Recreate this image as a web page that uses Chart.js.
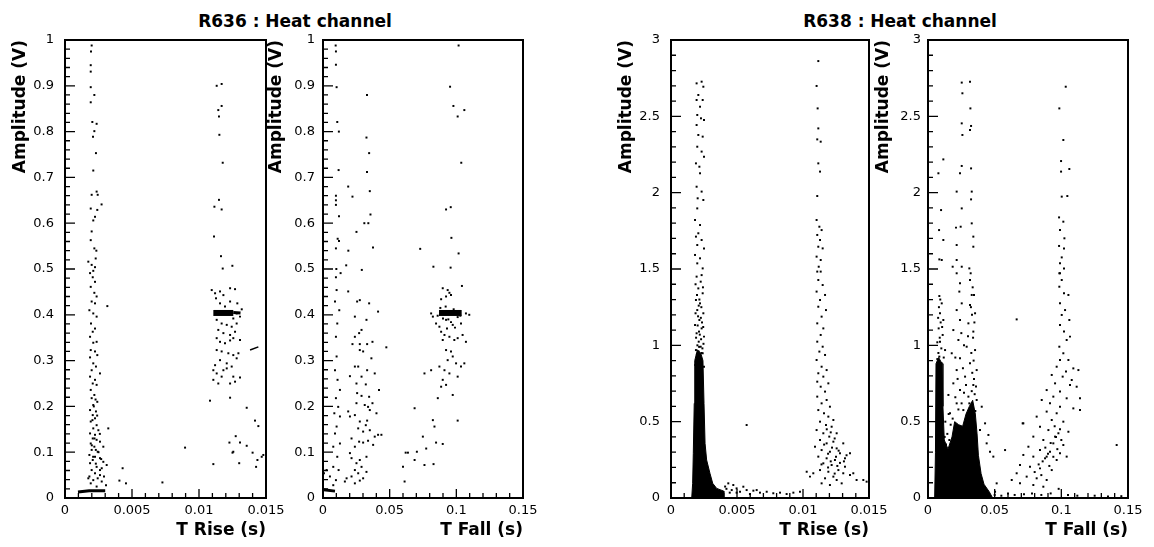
<!DOCTYPE html>
<html>
<head>
<meta charset="utf-8">
<script src="https://cdn.jsdelivr.net/npm/chart.js@4.4.0/dist/chart.umd.min.js"></script>
<style>
html, body { margin: 0; padding: 0; background: #fff; }
#wrap { position: relative; width: 1154px; height: 547px; overflow: hidden; }
canvas { position: absolute; }
.suptitle { position: absolute; top: 11px; line-height: 20px; font: bold 17px "DejaVu Sans"; transform: translateX(-50%); white-space: nowrap; color: #000; }
</style>
</head>
<body>
<div id="wrap">
  <div class="suptitle" style="left:295px">R636 : Heat channel</div>
  <div class="suptitle" style="left:900px">R638 : Heat channel</div>
  <canvas id="p1" width="288" height="517" style="left:0px;top:30px"></canvas>
  <canvas id="p2" width="289" height="517" style="left:256px;top:30px"></canvas>
  <canvas id="p3" width="285" height="517" style="left:606px;top:30px"></canvas>
  <canvas id="p4" width="287" height="517" style="left:863px;top:30px"></canvas>
</div>
<script>
// axes
const riseTicks = [0, 0.005, 0.01, 0.015];
const riseLabels = ['0', '0.005', '0.01', '0.015'];
const fallTicks = [0, 0.05, 0.1, 0.15];
const fallLabels = ['0', '0.05', '0.1', '0.15'];
const amp636Ticks = [0, 0.1, 0.2, 0.3, 0.4, 0.5, 0.6, 0.7, 0.8, 0.9, 1];
const amp636Labels = ['0', '0.1', '0.2', '0.3', '0.4', '0.5', '0.6', '0.7', '0.8', '0.9', '1'];
const amp638Ticks = [0, 0.5, 1, 1.5, 2, 2.5, 3];
const amp638Labels = ['0', '0.5', '1', '1.5', '2', '2.5', '3'];

// ---- R636, T Rise ----
const r636RiseBandHigh = [[0.00199,0.988],[0.00194,0.975],[0.00192,0.945],[0.00192,0.931],[0.00192,0.897],[0.00219,0.880],[0.00192,0.864],[0.00204,0.821],[0.00236,0.817],[0.00219,0.801],[0.00209,0.789],[0.00231,0.753],[0.00211,0.715],[0.00199,0.662],[0.00236,0.669],[0.00244,0.662],[0.00273,0.641],[0.00192,0.632],[0.00224,0.614],[0.00211,0.606],[0.00241,0.629],[0.00199,0.582],[0.00192,0.563],[0.00219,0.545],[0.00234,0.540],[0.00229,0.523],[0.00174,0.516],[0.00199,0.509],[0.00224,0.504],[0.00211,0.496]];
const r636RiseBandLow = [[0.00187,0.491],[0.00207,0.482],[0.00224,0.472],[0.00192,0.461],[0.00219,0.448],[0.00236,0.440],[0.00199,0.429],[0.00224,0.425],[0.00182,0.410],[0.00211,0.403],[0.00236,0.396],[0.00194,0.381],[0.00224,0.370],[0.00207,0.363],[0.00187,0.352],[0.00236,0.341],[0.00211,0.339],[0.00192,0.323],[0.00224,0.320],[0.00241,0.312],[0.00187,0.307],[0.00211,0.294],[0.00231,0.287],[0.00199,0.279],[0.00261,0.272],[0.00187,0.265],[0.00224,0.258],[0.00207,0.250],[0.00236,0.247],[0.00192,0.236],[0.00219,0.225],[0.00199,0.218],[0.00241,0.210],[0.00211,0.203],[0.00187,0.192],[0.00231,0.189],[0.00207,0.181],[0.00224,0.174],[0.00192,0.167],[0.00236,0.159],[0.00211,0.152],[0.00249,0.148],[0.00187,0.141],[0.00224,0.138],[0.00207,0.130],[0.00236,0.127],[0.00261,0.123],[0.00192,0.119],[0.00219,0.112],[0.00286,0.112],[0.00199,0.105],[0.00244,0.101],[0.00182,0.094],[0.00224,0.090],[0.00261,0.087],[0.00207,0.083],[0.00311,0.072],[0.00187,0.076],[0.00236,0.068],[0.00274,0.065],[0.00199,0.061],[0.00224,0.054],[0.00261,0.050],[0.00182,0.047],[0.00244,0.043],[0.00291,0.047],[0.00211,0.039],[0.00274,0.036],[0.00192,0.032],[0.00306,0.028],[0.00236,0.025],[0.00261,0.061],[0.00174,0.043],[0.00286,0.079],[0.00215,0.200],[0.00228,0.215],[0.00205,0.170],[0.00240,0.180],[0.00220,0.130],[0.00250,0.100],[0.00210,0.090],[0.00230,0.075],[0.00270,0.085],[0.00200,0.115],[0.00260,0.140],[0.00230,0.105]];
const r636RiseBase = [[0.00097,0.013],[0.0018,0.016],[0.0030,0.016]];
const r636RiseClusterHigh = [[0.01132,0.900],[0.01169,0.904],[0.01144,0.847],[0.01169,0.856],[0.01149,0.833],[0.01152,0.793],[0.01177,0.732],[0.01149,0.651],[0.01115,0.636],[0.01169,0.630],[0.01112,0.571],[0.01164,0.528],[0.01249,0.507],[0.01177,0.501]];
const r636RiseCluster = [[0.01095,0.454],[0.0112,0.447],[0.01157,0.451],[0.01232,0.458],[0.01182,0.443],[0.01269,0.456],[0.01127,0.436],[0.01157,0.425],[0.01194,0.418],[0.01232,0.429],[0.01286,0.425],[0.01319,0.412],[0.01281,0.403],[0.01306,0.396],[0.01256,0.392],[0.01132,0.389],[0.01169,0.381],[0.01207,0.378],[0.01244,0.374],[0.01281,0.381],[0.01144,0.367],[0.01182,0.360],[0.01232,0.356],[0.01269,0.363],[0.01306,0.345],[0.01132,0.349],[0.01157,0.341],[0.01194,0.338],[0.01232,0.344],[0.01256,0.349],[0.01132,0.323],[0.01169,0.320],[0.01219,0.316],[0.01256,0.312],[0.01294,0.316],[0.01157,0.301],[0.01207,0.294],[0.01244,0.287],[0.01281,0.305],[0.01107,0.279],[0.01132,0.272],[0.01169,0.265],[0.01207,0.283],[0.01256,0.265],[0.01107,0.258],[0.01144,0.250],[0.01232,0.250],[0.01269,0.254],[0.01306,0.263],[0.0112,0.290],[0.01182,0.279]];
const r636RisePeak = [[0.01107,0.404],[0.01256,0.404]];
const r636RisePeakTail = [[0.01256,0.405],[0.0131,0.404]];
const r636RiseStray = [[0.00316,0.419],[0.00323,0.152],[0.0043,0.065],[0.00406,0.038],[0.00455,0.032],[0.00727,0.034],[0.00896,0.110],[0.01107,0.074],[0.01082,0.2125],[0.01232,0.219],[0.01227,0.121],[0.01256,0.101],[0.01306,0.121],[0.01274,0.135],[0.01356,0.114],[0.0125,0.099],[0.0130,0.076],[0.01356,0.197],[0.0140,0.099],[0.01418,0.169],[0.01443,0.157],[0.01426,0.068],[0.01436,0.083],[0.01468,0.090],[0.0148,0.094]];
const r636RiseDash = [[0.01381,0.323],[0.01443,0.330]];

// ---- R636, T Fall ----
const r636FallHigh = [[0.0095,0.988],[0.0097,0.975],[0.0097,0.946],[0.0102,0.897],[0.033,0.880],[0.0953,0.898],[0.0978,0.856],[0.101,0.833],[0.106,0.847],[0.1017,0.988],[0.0107,0.821],[0.0119,0.800],[0.0326,0.787],[0.0346,0.753],[0.1037,0.732],[0.0117,0.716],[0.033,0.712],[0.0189,0.680],[0.0221,0.658],[0.0097,0.660],[0.0097,0.650],[0.0097,0.640],[0.0351,0.670],[0.0356,0.619],[0.012,0.615],[0.031,0.600],[0.034,0.600],[0.0923,0.630],[0.0958,0.635],[0.0251,0.581],[0.011,0.566],[0.012,0.561],[0.0097,0.545],[0.019,0.540],[0.0375,0.547],[0.0729,0.544],[0.0963,0.568],[0.1017,0.534],[0.0828,0.505],[0.0957,0.503],[0.010,0.500],[0.0174,0.508],[0.0291,0.498]];
const r636FallLeft = [[0.0097,0.482],[0.0132,0.491],[0.0102,0.454],[0.0090,0.429],[0.0122,0.410],[0.0107,0.381],[0.0097,0.352],[0.0102,0.309],[0.0090,0.279],[0.0109,0.258],[0.0127,0.236],[0.0097,0.218],[0.0114,0.199],[0.0085,0.185],[0.0127,0.178],[0.0102,0.156],[0.0090,0.141],[0.0127,0.119],[0.0077,0.112],[0.0107,0.090],[0.0077,0.068],[0.0117,0.061],[0.0097,0.039],[0.0052,0.047],[0.0027,0.061],[0.0007,0.054],[0.0077,0.028]];
const r636FallBase = [[0.0005,0.018],[0.009,0.015]];
const r636FallMid = [[0.0189,0.451],[0.0256,0.429],[0.0276,0.432],[0.0346,0.425],[0.0413,0.407],[0.0239,0.396],[0.0326,0.389],[0.0289,0.367],[0.0271,0.360],[0.0239,0.352],[0.0221,0.336],[0.0276,0.336],[0.0331,0.336],[0.0371,0.341],[0.0475,0.329],[0.0276,0.323],[0.0301,0.320],[0.0363,0.305],[0.0239,0.287],[0.0264,0.287],[0.0331,0.279],[0.0388,0.272],[0.0202,0.266],[0.0289,0.265],[0.0251,0.250],[0.0321,0.248],[0.0256,0.229],[0.0420,0.236],[0.0289,0.223],[0.0346,0.221],[0.0251,0.207],[0.0313,0.203],[0.0338,0.199],[0.0371,0.207],[0.0351,0.192],[0.0401,0.185],[0.0202,0.178],[0.0239,0.181],[0.0189,0.189],[0.0276,0.167],[0.0331,0.169],[0.0321,0.159],[0.0264,0.152],[0.0301,0.145],[0.0351,0.148],[0.0413,0.138],[0.0438,0.138],[0.0388,0.134],[0.0214,0.130],[0.0271,0.123],[0.0301,0.121],[0.0338,0.125],[0.0376,0.116],[0.0239,0.112],[0.0202,0.098],[0.0214,0.087],[0.0276,0.083],[0.0326,0.090],[0.0251,0.076],[0.0239,0.061],[0.0289,0.068],[0.0264,0.054],[0.0214,0.047],[0.0177,0.043],[0.0301,0.043],[0.0276,0.038],[0.0164,0.036],[0.0239,0.032],[0.0326,0.057]];
const r636FallCluster = [[0.0898,0.458],[0.0935,0.454],[0.0960,0.443],[0.0923,0.440],[0.1042,0.463],[0.0886,0.434],[0.0948,0.448],[0.0811,0.403],[0.0824,0.396],[0.1072,0.403],[0.1097,0.400],[0.0848,0.381],[0.0873,0.374],[0.0923,0.389],[0.0973,0.378],[0.1035,0.381],[0.0886,0.363],[0.0911,0.356],[0.0948,0.352],[0.0985,0.345],[0.1010,0.349],[0.1047,0.356],[0.1072,0.341],[0.0898,0.345],[0.0923,0.323],[0.0960,0.320],[0.0973,0.309],[0.0935,0.301],[0.0998,0.294],[0.1035,0.287],[0.1060,0.294],[0.0873,0.287],[0.0911,0.279],[0.0948,0.272],[0.1010,0.265],[0.0898,0.258],[0.0923,0.247],[0.0886,0.243],[0.0861,0.218],[0.0973,0.225],[0.0761,0.272],[0.0811,0.279],[0.1010,0.169],[0.0824,0.170],[0.0836,0.156],[0.0687,0.196],[0.088,0.415],[0.092,0.418],[0.098,0.412],[0.101,0.395],[0.094,0.390],[0.090,0.392],[0.096,0.384],[0.103,0.398],[0.086,0.398],[0.099,0.372],[0.093,0.370]];
const r636FallPeak = [[0.087,0.404],[0.104,0.404]];
const r636FallTail = [[0.0600,0.068],[0.0620,0.099],[0.0637,0.099],[0.0687,0.083],[0.0704,0.101],[0.0761,0.072],[0.0774,0.108],[0.0829,0.074],[0.0848,0.121],[0.0898,0.118],[0.0612,0.036],[0.0749,0.134]];

// ---- R638, T Rise ----
const r638RiseSpikeHigh = [[0.00194,2.716],[0.00232,2.727],[0.00245,2.694],[0.00207,2.640],[0.00194,2.607],[0.00240,2.607],[0.00220,2.563],[0.00199,2.509],[0.00227,2.487],[0.00250,2.476],[0.00194,2.443],[0.00207,2.378],[0.00240,2.367],[0.00199,2.301],[0.00232,2.269],[0.00250,2.236],[0.00189,2.192],[0.00215,2.170],[0.00220,2.127],[0.00194,2.039],[0.00232,2.007],[0.00202,1.963],[0.00245,1.952],[0.00199,1.897],[0.00182,1.821],[0.00220,1.788],[0.00207,1.734],[0.00189,1.712],[0.00232,1.690],[0.00199,1.657],[0.00250,1.635],[0.00182,1.592],[0.00220,1.570],[0.00199,1.537],[0.00240,1.504]];
const r638RiseSpikeMid = [[0.00194,1.450],[0.00225,1.417],[0.00207,1.373],[0.00240,1.341],[0.00189,1.297],[0.00220,1.275],[0.00199,1.231],[0.00245,1.210],[0.00215,1.166],[0.00182,1.133],[0.00232,1.111],[0.00194,1.079],[0.00250,1.057],[0.00210,1.024],[0.00225,0.991],[0.00189,0.969],[0.00240,0.948],[0.00202,0.921],[0.00220,0.893],[0.00184,0.871],[0.00250,0.860],[0.00215,1.30],[0.00230,1.25],[0.00205,1.19],[0.00235,1.15],[0.00212,1.09],[0.00228,1.04],[0.00200,1.00],[0.00238,0.98],[0.00186,1.40],[0.00232,1.46],[0.00242,1.38],[0.00197,1.33],[0.00210,1.26],[0.00186,1.21],[0.00226,1.18],[0.00244,1.12],[0.00202,1.13],[0.00190,1.05],[0.00218,1.07],[0.00246,1.01],[0.00232,0.95],[0.00208,0.96],[0.00196,0.94],[0.00213,0.99]];
const r638RiseSpikeCore = [[0.00157,0],[0.00164,0.096],[0.00169,0.293],[0.00176,0.620],[0.00180,0.900],[0.00200,0.97],[0.00225,0.95],[0.00242,0.900],[0.00250,0.620],[0.00258,0.358],[0.00270,0.249],[0.00295,0.162],[0.00316,0.096],[0.00346,0.063],[0.00400,0.045],[0.00400,0]];
const r638RiseFloor = [[0.00434,0.096],[0.00472,0.085],[0.00497,0.063],[0.00548,0.074],[0.00573,0.052],[0.00624,0.048],[0.00674,0.035],[0.00725,0.041],[0.00775,0.031],[0.00826,0.035],[0.00876,0.026],[0.00927,0.035],[0.00977,0.041],[0.00460,0.052],[0.00523,0.041],[0.00598,0.026],[0.00497,0.035],[0.00649,0.052],[0.00573,0.478],[0.00420,0.060],[0.00445,0.035],[0.00410,0.075]];
const r638RiseSecondHigh = [[0.01116,2.862],[0.01103,2.699],[0.01111,2.552],[0.01116,2.421],[0.01108,2.349],[0.01134,2.334],[0.01116,2.192],[0.01129,2.138],[0.01108,1.978],[0.01103,1.821],[0.01124,1.777],[0.01141,1.755],[0.01108,1.723],[0.01129,1.690],[0.01116,1.646],[0.01149,1.635],[0.01103,1.581],[0.01134,1.559],[0.01119,1.515],[0.01108,1.483]];
const r638RiseSecondLow = [[0.01134,1.483],[0.01116,1.428],[0.01149,1.395],[0.01103,1.352],[0.01167,1.330],[0.01129,1.297],[0.01116,1.253],[0.01174,1.231],[0.01141,1.188],[0.01108,1.144],[0.01154,1.111],[0.01134,1.068],[0.01108,1.024],[0.01149,0.991],[0.01124,0.959],[0.01167,0.937],[0.01103,0.904],[0.01141,0.860],[0.01179,0.838],[0.01116,0.817],[0.01154,0.795],[0.01108,0.762],[0.01192,0.751],[0.01134,0.729],[0.01167,0.697],[0.01108,0.664],[0.01179,0.642],[0.01141,0.620],[0.01204,0.598],[0.01116,0.576],[0.01159,0.555],[0.01192,0.533],[0.01230,0.511],[0.01129,0.500],[0.01174,0.478],[0.01217,0.467],[0.01103,0.445],[0.01154,0.424],[0.01255,0.424],[0.01199,0.402],[0.01129,0.380],[0.01230,0.369],[0.01179,0.358],[0.01305,0.358],[0.01091,0.336],[0.01141,0.314],[0.01255,0.325],[0.01204,0.303],[0.01280,0.293],[0.01116,0.271],[0.01179,0.260],[0.01242,0.249],[0.01318,0.260],[0.01154,0.227],[0.01217,0.216],[0.01356,0.293],[0.01129,0.183],[0.01192,0.172],[0.01268,0.183],[0.01078,0.162],[0.01230,0.140],[0.01305,0.162],[0.01167,0.129],[0.01255,0.118],[0.01356,0.151],[0.01141,0.096],[0.01204,0.085],[0.01293,0.096],[0.01406,0.118],[0.01028,0.172],[0.01053,0.140],[0.01381,0.162],[0.01318,0.205],[0.01457,0.118],[0.01482,0.107],[0.0118,0.45],[0.0121,0.43],[0.0124,0.39],[0.0116,0.35],[0.0122,0.33],[0.0127,0.31],[0.0119,0.29],[0.0125,0.27],[0.0131,0.24],[0.0121,0.24],[0.0126,0.21],[0.0119,0.20],[0.0128,0.23],[0.0133,0.28],[0.0124,0.16],[0.0114,0.22]];

// ---- R638, T Fall ----
const r638FallLeftHigh = [[0.0253,2.721],[0.0315,2.727],[0.0258,2.651],[0.0318,2.552],[0.0253,2.454],[0.0323,2.437],[0.0258,2.378],[0.0315,2.411],[0.0115,2.218],[0.0078,2.127],[0.0253,2.175],[0.0240,2.127],[0.0323,2.159],[0.0215,2.007],[0.0253,1.897],[0.0328,2.007],[0.0323,1.956],[0.0098,1.886],[0.0083,1.755],[0.0115,1.690],[0.0210,1.771],[0.0245,1.777],[0.0215,1.657],[0.0328,1.799],[0.0340,1.712],[0.0340,1.646],[0.0085,1.563],[0.0103,1.559],[0.0215,1.559],[0.0185,1.515],[0.0253,1.515],[0.0310,1.504],[0.0320,1.472]];
const r638FallLeftMid = [[0.0085,1.323],[0.0103,1.275],[0.0090,1.210],[0.0115,1.166],[0.0080,1.111],[0.0110,1.068],[0.0090,1.024],[0.0128,0.969],[0.0085,0.926],[0.0103,0.882],[0.0215,1.472],[0.0240,1.406],[0.0315,1.428],[0.0235,1.352],[0.0328,1.330],[0.0253,1.275],[0.0315,1.264],[0.0215,1.231],[0.0353,1.210],[0.0240,1.166],[0.0303,1.144],[0.0190,1.100],[0.0340,1.090],[0.0228,1.035],[0.0290,0.991],[0.0353,0.969],[0.0178,0.948],[0.0240,0.915],[0.0315,0.882],[0.0215,0.838],[0.0365,0.838],[0.0278,0.795],[0.0190,0.751],[0.0340,0.740],[0.0240,0.707],[0.0153,0.675],[0.0303,0.664],[0.0365,0.642],[0.0215,0.620],[0.0265,0.576],[0.0165,0.555],[0.0328,0.533],[0.0403,0.598],[0.0428,0.489],[0.0440,0.358],[0.0465,0.303],[0.0490,0.271],[0.0515,0.096],[0.0503,0.041],[0.0390,0.445],[0.0453,0.413],[0.0665,1.170],[0.0710,0.489],[0.0578,0.314],[0.0335,1.38],[0.0330,1.20],[0.0338,1.05],[0.0325,0.95],[0.0342,0.90],[0.0332,0.82],[0.0345,0.78],[0.0328,0.70],[0.0350,0.68],[0.0335,0.60],[0.0310,0.62],[0.0295,0.55],[0.0082,1.25],[0.0095,1.15],[0.0088,1.05],[0.0100,0.98],[0.0078,0.95],[0.0130,0.50],[0.0145,0.42],[0.0160,0.38],[0.0135,0.35],[0.0170,0.48],[0.0155,0.55],[0.0185,0.52],[0.0125,0.40],[0.0150,0.30],[0.0070,1.02],[0.0092,1.30],[0.0076,1.18],[0.0106,1.12],[0.0070,0.91],[0.0118,0.92],[0.0205,0.66],[0.0228,0.58],[0.0252,0.62],[0.0270,0.69],[0.0285,0.74],[0.0222,0.78],[0.0262,0.85],[0.0300,1.06],[0.0348,1.15],[0.0322,1.25],[0.0345,1.33],[0.0360,0.73],[0.0355,0.57],[0.0205,0.92],[0.0270,1.00],[0.0250,1.08]];
const r638FallCore = [[0.0050,0],[0.0056,0.30],[0.0060,0.88],[0.0080,0.92],[0.0105,0.88],[0.0112,0.60],[0.0122,0.38],[0.0150,0.32],[0.0180,0.40],[0.0200,0.50],[0.0230,0.48],[0.0260,0.47],[0.0285,0.55],[0.0310,0.60],[0.0335,0.64],[0.0355,0.55],[0.0368,0.42],[0.0378,0.28],[0.0398,0.16],[0.0420,0.09],[0.0460,0.04],[0.0485,0]];
const r638FallHigh = [[0.1033,2.694],[0.0985,2.552],[0.1015,2.345],[0.0998,2.207],[0.0998,2.138],[0.1060,2.155],[0.1003,1.974],[0.1045,1.978],[0.0983,1.838],[0.1015,1.810],[0.0990,1.755],[0.1023,1.701],[0.0983,1.651],[0.1020,1.635],[0.1003,1.576],[0.0990,1.537],[0.1020,1.504],[0.0985,1.472]];
const r638FallArc = [[0.0990,1.472],[0.1003,1.428],[0.0985,1.384],[0.1020,1.341],[0.1053,1.330],[0.0990,1.275],[0.1028,1.231],[0.1003,1.199],[0.1060,1.166],[0.0990,1.133],[0.1020,1.090],[0.1065,1.057],[0.1040,1.035],[0.0985,0.991],[0.1015,0.948],[0.1053,0.904],[0.1090,0.849],[0.1128,0.838],[0.0965,0.860],[0.0928,0.806],[0.1010,0.795],[0.0953,0.751],[0.1078,0.773],[0.1115,0.729],[0.0890,0.707],[0.0990,0.697],[0.0940,0.664],[0.1040,0.653],[0.1140,0.653],[0.0853,0.642],[0.0915,0.620],[0.0990,0.598],[0.1090,0.587],[0.0890,0.566],[0.0965,0.555],[0.1140,0.576],[0.0815,0.533],[0.0928,0.511],[0.1015,0.500],[0.0840,0.467],[0.0903,0.445],[0.0978,0.424],[0.1053,0.434],[0.0790,0.402],[0.0865,0.380],[0.0940,0.358],[0.1015,0.347],[0.0753,0.336],[0.0840,0.314],[0.0915,0.303],[0.0990,0.293],[0.0715,0.282],[0.0790,0.271],[0.0878,0.260],[0.0965,0.249],[0.0690,0.216],[0.0765,0.205],[0.0840,0.194],[0.0928,0.183],[0.0665,0.162],[0.0740,0.140],[0.0815,0.129],[0.0890,0.118],[0.0690,0.096],[0.0790,0.085],[0.0865,0.074],[0.0628,0.118],[0.0715,0.489],[0.1040,0.271],[0.1415,0.347],[0.1065,0.740],[0.1035,0.828],[0.0990,0.904],[0.0953,0.402],[0.0890,0.271],[0.0880,0.33],[0.0920,0.36],[0.0960,0.40],[0.0900,0.29],[0.0860,0.24],[0.0940,0.27],[0.0970,0.32],[0.0830,0.22],[0.0910,0.21],[0.0850,0.15],[0.0800,0.17],[0.0990,0.45],[0.0950,0.47],[0.1000,0.38]];
const r638FallFloor = [[0.050,0.020],[0.055,0.015],[0.060,0.030],[0.065,0.020],[0.072,0.025],[0.078,0.030],[0.085,0.020],[0.092,0.030],[0.098,0.060],[0.105,0.020],[0.112,0.015],[0.125,0.015],[0.135,0.010],[0.145,0.012]];

const xy = arr => arr.map(p => ({ x: p[0], y: p[1] }));
const dots = arr => ({ data: xy(arr), pointStyle: 'rect', pointRadius: 1.4, pointBackgroundColor: '#000', pointBorderWidth: 0, showLine: false });
const streak = (arr, w) => ({ data: xy(arr), showLine: true, borderColor: '#000', borderWidth: w, pointRadius: 0, tension: 0, fill: false });
const blob = arr => ({ data: xy(arr), showLine: true, borderColor: '#000', borderWidth: 1, backgroundColor: '#000', pointRadius: 0, tension: 0, fill: 'shape' });

const tickFont = { family: '"DejaVu Sans"', size: 13 };
const titleFont = { family: '"DejaVu Sans"', size: 17, weight: 'bold' };

// ROOT style frame with inward ticks
const rootFrame = {
    id: 'rootFrame',
    afterDraw(chart, args, o) {
        const { ctx, chartArea: a, scales: { x, y } } = chart;
        ctx.save();
        ctx.strokeStyle = '#000';
        ctx.lineWidth = 1.3;
        ctx.beginPath();
        const nx = Math.round((x.max - x.min) / o.xMinor);
        for (let i = 0; i <= nx; i++) {
            const px = x.getPixelForValue(x.min + i * o.xMinor);
            const len = i % 5 === 0 ? 9 : 5;
            ctx.moveTo(px, a.bottom);
            ctx.lineTo(px, a.bottom - len);
        }
        const ny = Math.round((y.max - y.min) / o.yMinor);
        for (let i = 0; i <= ny; i++) {
            const py = y.getPixelForValue(y.min + i * o.yMinor);
            const len = i % 5 === 0 ? 10 : 5;
            ctx.moveTo(a.left, py);
            ctx.lineTo(a.left + len, py);
        }
        ctx.stroke();
        ctx.lineWidth = 2;
        ctx.strokeRect(a.left, a.top, a.right - a.left, a.bottom - a.top);
        ctx.restore();
    }
};

function panel(id, cfg) {
    return new Chart(document.getElementById(id), {
        type: 'scatter',
        data: { datasets: cfg.datasets },
        options: {
            responsive: false,
            animation: false,
            devicePixelRatio: 1,
            layout: { padding: { top: 10, right: 22, bottom: 0, left: 0 } },
            plugins: {
                legend: { display: false },
                tooltip: { enabled: false },
                rootFrame: { xMinor: cfg.xMinor, yMinor: cfg.yMinor }
            },
            scales: {
                x: {
                    type: 'linear', position: 'bottom',
                    min: cfg.xTicks[0], max: cfg.xTicks[cfg.xTicks.length - 1],
                    grid: { display: false, drawTicks: false },
                    border: { display: false },
                    afterBuildTicks: s => { s.ticks = cfg.xTicks.map(v => ({ value: v })); },
                    afterFit: s => { s.height = 49; s.paddingLeft = 0; s.paddingRight = 0; },
                    ticks: { color: '#000', font: tickFont, padding: 5, maxRotation: 0, autoSkip: false,
                             callback: (v, i) => cfg.xLabels[i] },
                    title: { display: true, text: cfg.xTitle, align: 'end', color: '#000', font: titleFont,
                             padding: { top: 0, bottom: 6 } }
                },
                y: {
                    type: 'linear', position: 'left',
                    min: cfg.yTicks[0], max: cfg.yTicks[cfg.yTicks.length - 1],
                    grid: { display: false, drawTicks: false },
                    border: { display: false },
                    afterBuildTicks: s => { s.ticks = cfg.yTicks.map(v => ({ value: v })); },
                    afterFit: s => { s.width = cfg.yWidth; s.paddingTop = 0; s.paddingBottom = 0; },
                    ticks: { color: '#000', font: tickFont, padding: cfg.yPad, autoSkip: false,
                             callback: (v, i) => cfg.yLabels[i] },
                    title: { display: true, text: 'Amplitude (V)', align: 'end', color: '#000', font: titleFont,
                             padding: { top: 10, bottom: 0 } }
                }
            }
        },
        plugins: [rootFrame]
    });
}

panel('p1', {
    xTicks: riseTicks, xLabels: riseLabels, xTitle: 'T Rise (s)', xMinor: 0.001,
    yTicks: amp636Ticks, yLabels: amp636Labels, yMinor: 0.02, yWidth: 65, yPad: 11,
    datasets: [dots(r636RiseBandHigh), dots(r636RiseBandLow), streak(r636RiseBase, 3),
               dots(r636RiseClusterHigh), dots(r636RiseCluster), streak(r636RisePeak, 6),
               streak(r636RisePeakTail, 3), dots(r636RiseStray), streak(r636RiseDash, 1.5)]
});

panel('p2', {
    xTicks: fallTicks, xLabels: fallLabels, xTitle: 'T Fall (s)', xMinor: 0.01,
    yTicks: amp636Ticks, yLabels: amp636Labels, yMinor: 0.02, yWidth: 67, yPad: 8,
    datasets: [dots(r636FallHigh), dots(r636FallLeft), streak(r636FallBase, 3), dots(r636FallMid),
               dots(r636FallCluster), streak(r636FallPeak, 6), dots(r636FallTail)]
});

panel('p3', {
    xTicks: riseTicks, xLabels: riseLabels, xTitle: 'T Rise (s)', xMinor: 0.001,
    yTicks: amp638Ticks, yLabels: amp638Labels, yMinor: 0.1, yWidth: 65, yPad: 11,
    datasets: [blob(r638RiseSpikeCore), dots(r638RiseSpikeHigh), dots(r638RiseSpikeMid), dots(r638RiseFloor),
               dots(r638RiseSecondHigh), dots(r638RiseSecondLow)]
});

panel('p4', {
    xTicks: fallTicks, xLabels: fallLabels, xTitle: 'T Fall (s)', xMinor: 0.01,
    yTicks: amp638Ticks, yLabels: amp638Labels, yMinor: 0.1, yWidth: 65, yPad: 7,
    datasets: [blob(r638FallCore), dots(r638FallLeftHigh), dots(r638FallLeftMid), dots(r638FallHigh),
               dots(r638FallArc), dots(r638FallFloor)]
});
</script>
</body>
</html>
